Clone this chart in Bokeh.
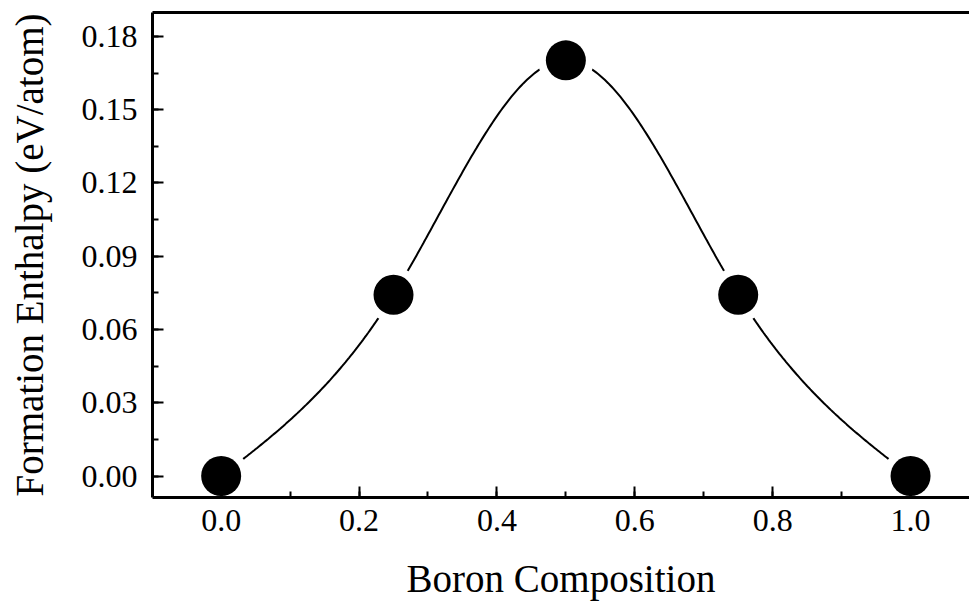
import numpy as np
from bokeh.plotting import figure
from bokeh.models import (Range1d, LinearAxis, SingleIntervalTicker, FixedTicker,
                          PrintfTickFormatter, ColumnDataSource)
from bokeh.embed import file_html
from bokeh.resources import INLINE

# ---- data ----
boron_composition = [0.0, 0.25, 0.5, 0.75, 1.0]
formation_enthalpy = [0.0, 0.0742, 0.1702, 0.0742, 0.0]

x_label = "Boron Composition"
y_label = "Formation Enthalpy (eV/atom)"

FONT = "'Liberation Serif', 'Times New Roman', serif"


def natural_spline(xs, ys, n=400):
    xs = np.asarray(xs, float)
    ys = np.asarray(ys, float)
    k = len(xs)
    h = np.diff(xs)
    A = np.zeros((k, k))
    b = np.zeros(k)
    A[0, 0] = 1
    A[-1, -1] = 1
    for i in range(1, k - 1):
        A[i, i - 1] = h[i - 1]
        A[i, i] = 2 * (h[i - 1] + h[i])
        A[i, i + 1] = h[i]
        b[i] = 3 * ((ys[i + 1] - ys[i]) / h[i] - (ys[i] - ys[i - 1]) / h[i - 1])
    c = np.linalg.solve(A, b)
    xx = np.linspace(xs[0], xs[-1], n)
    yy = np.empty_like(xx)
    for j, xv in enumerate(xx):
        i = min(np.searchsorted(xs, xv, side="right") - 1, k - 2)
        dx = xv - xs[i]
        bi = (ys[i + 1] - ys[i]) / h[i] - h[i] * (2 * c[i] + c[i + 1]) / 3
        di = (c[i + 1] - c[i]) / (3 * h[i])
        yy[j] = ys[i] + bi * dx + c[i] * dx ** 2 + di * dx ** 3
    return xx, yy


sx, sy = natural_spline(boron_composition, formation_enthalpy)

p = figure(width=969, height=607, output_backend="svg", toolbar_location=None,
           x_range=Range1d(-0.0996, 1.0855), y_range=Range1d(-0.0088, 0.1898),
           x_axis_location=None, y_axis_location=None)
p.min_border_left = 152
p.min_border_right = 0
p.min_border_top = 12
p.min_border_bottom = 110
p.outline_line_color = None
p.background_fill_color = "white"
p.border_fill_color = "white"
p.grid.visible = False

p.line(sx, sy, line_color="black", line_width=2)
src = ColumnDataSource(dict(x=boron_composition, y=formation_enthalpy))
p.scatter("x", "y", source=src, size=56, fill_color="white", line_color=None)
p.scatter("x", "y", source=src, size=40, fill_color="black", line_color=None)

xaxis = LinearAxis(ticker=SingleIntervalTicker(interval=0.2, num_minor_ticks=2),
                   formatter=PrintfTickFormatter(format="%.1f"))
yaxis = LinearAxis(ticker=SingleIntervalTicker(interval=0.03, num_minor_ticks=2),
                   formatter=PrintfTickFormatter(format="%.2f"))
for ax, lab in ((xaxis, x_label), (yaxis, y_label)):
    ax.axis_label = lab
    ax.axis_label_text_font = FONT
    ax.axis_label_text_font_size = "39px"
    ax.axis_label_text_font_style = "normal"
    ax.axis_label_text_color = "black"
    ax.major_label_text_font = FONT
    ax.major_label_text_font_size = "32px"
    ax.major_label_text_color = "black"
    ax.axis_line_width = 3
    ax.axis_line_color = "black"
    ax.major_tick_in = 11
    ax.major_tick_out = 0
    ax.minor_tick_in = 6
    ax.minor_tick_out = 0
    ax.major_tick_line_width = 2
    ax.minor_tick_line_width = 2
    ax.major_tick_line_color = "black"
    ax.minor_tick_line_color = "black"

xaxis.major_label_standoff = 12
xaxis.axis_label_standoff = 23
yaxis.major_label_standoff = 15
yaxis.axis_label_standoff = 28

top = LinearAxis(ticker=FixedTicker(ticks=[]), axis_line_width=3, axis_line_color="black",
                 major_tick_line_color=None, minor_tick_line_color=None,
                 major_label_text_font_size="0px", major_label_standoff=0,
                 axis_label_standoff=0)

p.add_layout(xaxis, "below")
p.add_layout(yaxis, "left")
p.add_layout(top, "above")

open("out.html", "w").write(file_html(p, INLINE))
